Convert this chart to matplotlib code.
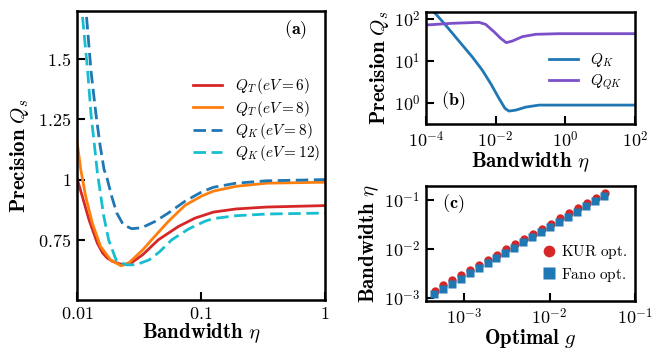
import matplotlib
matplotlib.use("Agg")
import matplotlib.pyplot as plt
from matplotlib.ticker import FixedLocator, FixedFormatter, NullLocator

plt.rcParams["mathtext.fontset"] = "cm"
plt.rcParams["font.family"] = ["cmr10", "DejaVu Serif"]
plt.rcParams["axes.formatter.use_mathtext"] = True

# panel (a): precision vs bandwidth
eta_t6 = [0.0100, 0.01104, 0.01250, 0.01459, 0.01611, 0.01754, 0.01941, 0.02339, 0.02723,
          0.03388, 0.04529, 0.06561, 0.08954, 0.1259, 0.1914, 0.339, 1.0]
q_t6 = [1.005, 0.93, 0.833, 0.736, 0.695, 0.674, 0.66, 0.646, 0.653,
        0.688, 0.75, 0.805, 0.84, 0.865, 0.878, 0.886, 0.892]
eta_t8 = [0.0100, 0.01072, 0.01175, 0.01327, 0.01549, 0.01862, 0.02265, 0.0263, 0.03388,
          0.03999, 0.05445, 0.0743, 0.1014, 0.1259, 0.1914, 0.339, 1.0]
q_t8 = [1.16, 1.042, 0.93, 0.82, 0.722, 0.667, 0.642, 0.655, 0.708,
        0.75, 0.826, 0.893, 0.932, 0.952, 0.972, 0.985, 0.989]
eta_k8 = [0.01096, 0.01183, 0.01297, 0.01422, 0.01531, 0.01652, 0.01738, 0.01905, 0.02089, 0.02360,
          0.02761, 0.03327, 0.04256, 0.05445, 0.0743, 0.1014, 0.1259, 0.1914, 0.339, 1.0]
q_k8 = [1.85, 1.70, 1.451, 1.271, 1.146, 1.042, 1.01, 0.93, 0.862, 0.8125,
        0.796, 0.80, 0.826, 0.861, 0.91, 0.949, 0.968, 0.985, 0.995, 1.0]
eta_k12 = [0.0100, 0.01096, 0.01219, 0.01297, 0.01380, 0.01459, 0.01641, 0.01799, 0.02065,
           0.02483, 0.02992, 0.03828, 0.0463, 0.0581, 0.07943, 0.1076, 0.1259, 0.1914, 0.339, 1.0]
q_k12 = [1.92, 1.701, 1.451, 1.271, 1.146, 1.03, 0.85, 0.75, 0.667,
         0.646, 0.646, 0.667, 0.70, 0.75, 0.795, 0.827, 0.838, 0.85, 0.857, 0.861]

# panel (b)
eta_b_k = [1.41e-4, 1.675e-4, 3.63e-4, 8.79e-4, 2.12e-3, 4.11e-3, 7.18e-3, 1.245e-2, 1.854e-2,
           2.415e-2, 3.767e-2, 7.29e-2, 0.176, 1.29, 100.0]
q_b_k = [174.0, 149.6, 71.8, 29.8, 12.5, 6.03, 2.88, 1.27, 0.731,
         0.631, 0.665, 0.785, 0.877, 0.877, 0.877]
eta_b_qk = [1e-4, 5.62e-4, 3.31e-3, 5.13e-3, 8.91e-3, 1.393e-2, 2.018e-2, 3.02e-2,
            5.82e-2, 0.141, 0.661, 100.0]
q_b_qk = [71.8, 78.9, 83.2, 74.6, 49.8, 34.5, 27.2, 29.8, 37.8, 43.1, 44.6, 44.6]

# panel (c)
g_opt = [4.47e-4, 5.69e-4, 7.24e-4, 9.23e-4, 1.175e-3, 1.496e-3, 1.905e-3, 2.427e-3, 3.09e-3, 3.936e-3,
         5.01e-3, 6.38e-3, 8.13e-3, 1.035e-2, 1.318e-2, 1.679e-2, 2.138e-2, 2.723e-2, 3.467e-2, 4.416e-2]
eta_kur = [1.41e-3, 1.80e-3, 2.29e-3, 2.92e-3, 3.72e-3, 4.73e-3, 6.02e-3, 7.67e-3, 9.77e-3, 1.245e-2,
           1.585e-2, 2.02e-2, 2.57e-2, 3.27e-2, 4.17e-2, 5.31e-2, 6.76e-2, 8.61e-2, 1.096e-1, 1.396e-1]
g_fano = [4.38e-4, 5.58e-4, 7.10e-4, 9.05e-4, 1.152e-3, 1.466e-3, 1.867e-3, 2.378e-3, 3.03e-3, 3.857e-3,
          4.91e-3, 6.25e-3, 7.97e-3, 1.014e-2, 1.292e-2, 1.645e-2, 2.095e-2, 2.669e-2, 3.398e-2, 4.328e-2]
eta_fano = [1.20e-3, 1.53e-3, 1.95e-3, 2.48e-3, 3.16e-3, 4.02e-3, 5.12e-3, 6.53e-3, 8.31e-3, 1.059e-2,
            1.348e-2, 1.716e-2, 2.19e-2, 2.78e-2, 3.55e-2, 4.52e-2, 5.75e-2, 7.33e-2, 9.33e-2, 1.188e-1]

W, H = 652, 349
fig = plt.figure(figsize=(W / 100, H / 100), dpi=100)
ax_a = fig.add_axes([77 / W, 1 - 300 / H, 248 / W, 289 / H])
ax_b = fig.add_axes([426 / W, 1 - 124 / H, 209 / W, 112 / H])
ax_c = fig.add_axes([426 / W, 1 - 301 / H, 209 / W, 115 / H])

fs = 13      # tick labels
fl = 15      # axis labels
fleg = 11
for ax in (ax_a, ax_b, ax_c):
    for s in ax.spines.values():
        s.set_linewidth(1.8)
    ax.tick_params(which="major", direction="in", length=5.5, width=1.5, labelsize=fs, pad=4,
                   top=False, right=False)

lw = 2.0
dash = (0, (4.5, 2.0))
ax_a.plot(eta_t6, q_t6, color="#d62728", lw=lw, label=r"$Q_T\,(eV=6)$")
ax_a.plot(eta_t8, q_t8, color="#ff7f0e", lw=lw, label=r"$Q_T\,(eV=8)$")
ax_a.plot(eta_k8, q_k8, color="#1f77b4", lw=lw, ls=dash, label=r"$Q_K\,(eV=8)$")
ax_a.plot(eta_k12, q_k12, color="#17becf", lw=lw, ls=dash, label=r"$Q_K\,(eV=12)$")
ax_a.set_xscale("log")
ax_a.set_xlim(0.01, 1)
ax_a.set_ylim(0.5, 1.7)
ax_a.xaxis.set_major_locator(FixedLocator([0.01, 0.1, 1]))
ax_a.xaxis.set_major_formatter(FixedFormatter([r"$0.01$", r"$0.1$", r"$1$"]))
ax_a.xaxis.set_minor_locator(NullLocator())
ax_a.yaxis.set_major_locator(FixedLocator([0.75, 1.0, 1.25, 1.5]))
ax_a.yaxis.set_major_formatter(FixedFormatter([r"$0.75$", r"$1$", r"$1.25$", r"$1.5$"]))
ax_a.set_xlabel(r"$\mathbf{Bandwidth}\ \eta$", fontsize=fl, labelpad=0)
ax_a.set_ylabel(r"$\mathbf{Precision}\ Q_s$", fontsize=fl, labelpad=5)
ax_a.legend(loc="upper right", bbox_to_anchor=(1.01, 0.80), frameon=False, fontsize=fleg,
            handlelength=1.9, handletextpad=0.8, labelspacing=0.15, borderpad=0)
ax_a.text(0.88, 0.935, r"$\mathbf{(a)}$", transform=ax_a.transAxes, fontsize=fs,
          ha="center", va="center")

ax_b.plot(eta_b_k, q_b_k, color="#1f77b4", lw=lw, label=r"$Q_K$")
ax_b.plot(eta_b_qk, q_b_qk, color="#7b4fc8", lw=lw, label=r"$Q_{QK}$")
ax_b.set_xscale("log")
ax_b.set_yscale("log")
ax_b.set_xlim(1e-4, 1e2)
ax_b.set_ylim(0.31, 147)
ax_b.xaxis.set_major_locator(FixedLocator([1e-4, 1e-2, 1e0, 1e2]))
ax_b.xaxis.set_major_formatter(FixedFormatter([r"$10^{-4}$", r"$10^{-2}$", r"$10^{0}$", r"$10^{2}$"]))
ax_b.yaxis.set_major_locator(FixedLocator([1e0, 1e1, 1e2]))
ax_b.yaxis.set_major_formatter(FixedFormatter([r"$10^{0}$", r"$10^{1}$", r"$10^{2}$"]))
ax_b.xaxis.set_minor_locator(NullLocator())
ax_b.yaxis.set_minor_locator(NullLocator())
ax_b.set_xlabel(r"$\mathbf{Bandwidth}\ \eta$", fontsize=fl, labelpad=0)
ax_b.set_ylabel(r"$\mathbf{Precision}\ Q_s$", fontsize=fl, labelpad=2)
ax_b.legend(loc="upper right", bbox_to_anchor=(0.975, 0.72), frameon=False, fontsize=fleg,
            handlelength=1.9, handletextpad=0.8, labelspacing=0.2, borderpad=0)
ax_b.text(0.13, 0.21, r"$\mathbf{(b)}$", transform=ax_b.transAxes, fontsize=fs,
          ha="center", va="center")

ax_c.plot(g_opt, eta_kur, "o", color="#d62728", ms=6, mec="none", label=r"$\mathrm{KUR\ opt.}$")
ax_c.plot(g_fano, eta_fano, "s", color="#1f77b4", ms=6, mec="none", label=r"$\mathrm{Fano\ opt.}$")
ax_c.set_xscale("log")
ax_c.set_yscale("log")
ax_c.set_xlim(3.55e-4, 1e-1)
ax_c.set_ylim(8.7e-4, 0.19)
ax_c.xaxis.set_major_locator(FixedLocator([1e-3, 1e-2, 1e-1]))
ax_c.xaxis.set_major_formatter(FixedFormatter([r"$10^{-3}$", r"$10^{-2}$", r"$10^{-1}$"]))
ax_c.yaxis.set_major_locator(FixedLocator([1e-3, 1e-2, 1e-1]))
ax_c.yaxis.set_major_formatter(FixedFormatter([r"$10^{-3}$", r"$10^{-2}$", r"$10^{-1}$"]))
ax_c.xaxis.set_minor_locator(NullLocator())
ax_c.yaxis.set_minor_locator(NullLocator())
ax_c.set_xlabel(r"$\mathbf{Optimal}\ g$", fontsize=fl, labelpad=0)
ax_c.set_ylabel(r"$\mathbf{Bandwidth}\ \eta$", fontsize=fl, labelpad=2)
ax_c.legend(loc="upper right", bbox_to_anchor=(1.0, 0.57), frameon=False, fontsize=fleg,
            markerscale=1.4, handlelength=0.8, handletextpad=0.4, labelspacing=0.3, borderpad=0)
ax_c.text(0.13, 0.85, r"$\mathbf{(c)}$", transform=ax_c.transAxes, fontsize=fs,
          ha="center", va="center")

fig.savefig("out.png", dpi=100)
